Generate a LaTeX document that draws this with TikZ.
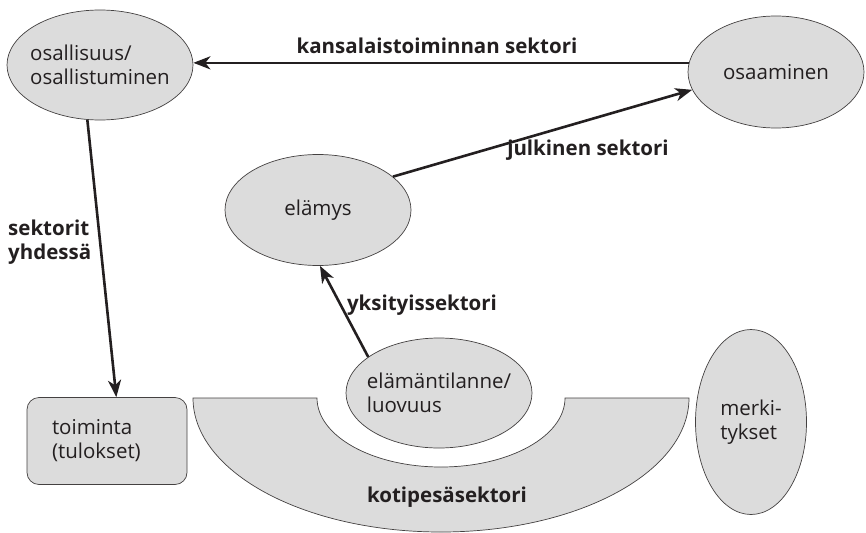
\documentclass[tikz,border=0pt]{standalone}
\usepackage{fontspec}
\setmainfont{Open Sans}
\usetikzlibrary{shapes.geometric,arrows.meta}
\definecolor{bubblegray}{RGB}{220,220,220}
\definecolor{inkline}{RGB}{35,31,32}
\begin{document}
\begin{tikzpicture}[x=1pt,y=-1pt,
  bubble/.style={ellipse,draw=inkline!85,line width=0.7pt,fill=bubblegray,inner sep=-18pt,align=left,font=\fontsize{20.5}{24}\selectfont,text=inkline},
  lbl/.style={font=\fontsize{20.5}{24.5}\selectfont\bfseries,text=inkline,align=left,inner sep=0pt},
  arr/.style={-{Stealth[length=17pt,width=13pt,inset=5pt]},line width=2.6pt,draw=inkline}]
\useasboundingbox (0,0) rectangle (866,532);
% kotipesa ring
\filldraw[fill=bubblegray,draw=inkline!85,line width=0.7pt] (193,398) -- (317,398) arc[start angle=180,end angle=360,x radius=124pt,y radius=69pt] -- (689,398) arc[start angle=0,end angle=-180,x radius=248pt,y radius=134pt] -- cycle;
\node[lbl] (kotipesa) at (447,497) {kotipesäsektori};
% bubbles
\node[bubble,minimum width=186pt,minimum height=110pt] (osallisuus) at (100,65) {osallisuus/\\osallistuminen};
\node[bubble,minimum width=176pt,minimum height=112pt] (osaaminen) at (776,72) {osaaminen};
\node[bubble,minimum width=186pt,minimum height=111pt] (elamys) at (318,210) {elämys};
\node[bubble,minimum width=186pt,minimum height=110pt] (elamantilanne) at (439,393) {elämäntilanne/\\luovuus};
\node[bubble,minimum width=111pt,minimum height=185pt] (merkitykset) at (751,422) {merki-\\tykset};
\node[bubble,rectangle,rounded corners=12pt,minimum width=160pt,minimum height=87pt,text width=110pt,inner sep=0pt] (toiminta) at (107,441) {toiminta\\(tulokset)};
% arrows
\draw[arr] (osaaminen.174.5) -- (osaaminen.174.5 -| osallisuus.east);
\draw[arr] (elamys.24) -- (osaaminen.192);
\draw[arr] (elamantilanne.153) -- (elamys.272);
\draw[arr] (osallisuus.257) -- (toiminta.78);
% sector labels
\node[lbl] (kansalais) at (437,46) {kansalaistoiminnan sektori};
\node[lbl] (julkinen) at (588,150) {julkinen sektori};
\node[lbl] (yksityis) at (422,305) {yksityissektori};
\node[lbl,anchor=west] (yhdessa) at (8,242) {sektorit\\yhdessä};
\end{tikzpicture}
\end{document}
